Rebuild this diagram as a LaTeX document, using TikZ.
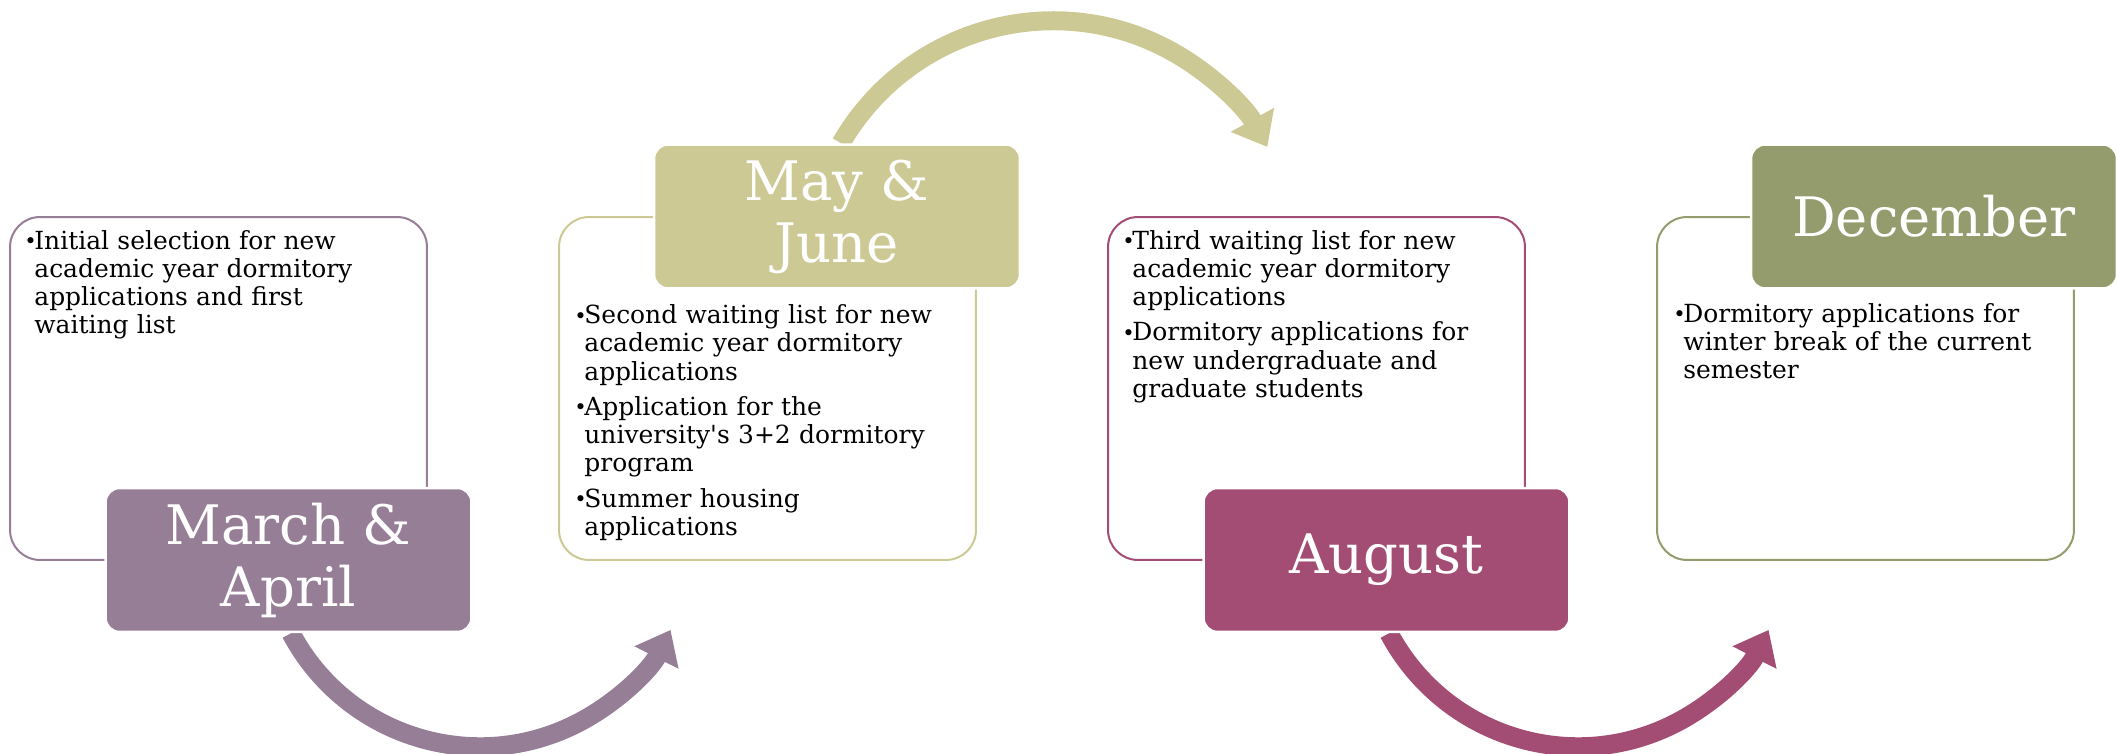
\documentclass[tikz,border=0pt]{standalone}
\usepackage{fontspec}
\setmainfont{DejaVu Serif}
\usetikzlibrary{arrows.meta, backgrounds, positioning}

\definecolor{mauve}{RGB}{150,126,150}
\definecolor{khaki}{RGB}{204,201,148}
\definecolor{berry}{RGB}{164,77,116}
\definecolor{olive}{RGB}{148,155,108}

\newcommand\bul{\makebox[0.2cm][l]{\raisebox{0.02em}{\fontsize{12}{12}\selectfont\textbullet}}}
\newcommand\ind{\hspace*{0.2cm}}

\begin{document}
\begin{tikzpicture}
  [
    x=0.02cm, y=0.02cm,
    stage/.style={draw, line width=0.04cm, rounded corners=0.6cm,
      minimum width=8.34cm, minimum height=6.86cm},
    month/.style={draw=white, line width=0.05cm, rounded corners=0.28cm,
      minimum width=7.32cm, minimum height=2.88cm, text=white, align=center,
      font=\fontsize{31}{35.3}\selectfont},
    notes/.style={anchor=base west, inner sep=0pt, text width=8cm, align=left,
      font=\fontsize{14.2}{16.1}\selectfont},
    flow/.style={line width=0.38cm, -{Triangle[length=0.62cm, width=0.95cm]}}
  ]
  \useasboundingbox (0,0) rectangle (2117,754);
  % march & april
  \node[stage, mauve] (s1) at (218.5,365.5) {};
  \node[notes] (n1) at ([shift={(0.3cm,-0.66cm)}]s1.north west)
  {\bul Initial selection for new\\
   \ind academic year dormitory\\
   \ind applications and first\\
   \ind waiting list};
  \node[month, fill=mauve] (march) at (288.5,194) {March \&\\ April};
  % may & june
  \node[stage, khaki] (s2) at (767.5,365.5) {};
  \node[notes] (n2) at ([shift={(0.32cm,-2.15cm)}]s2.north west)
  {\bul Second waiting list for new\\
   \ind academic year dormitory\\
   \ind applications\\[0.14cm]
   \bul Application for the\\
   \ind university\textquotesingle s 3+2 dormitory\\
   \ind program\\[0.14cm]
   \bul Summer housing\\
   \ind applications};
  \node[month, fill=khaki] (may) at (837,537.5) {May \&\\ June};
  % august
  \node[stage, berry] (s3) at (1316.5,365.5) {};
  \node[notes] (n3) at ([shift={(0.3cm,-0.66cm)}]s3.north west)
  {\bul Third waiting list for new\\
   \ind academic year dormitory\\
   \ind applications\\[0.14cm]
   \bul Dormitory applications for\\
   \ind new undergraduate and\\
   \ind graduate students};
  \node[month, fill=berry] (aug) at (1386.5,194) {August};
  % december
  \node[stage, olive] (s4) at (1865.5,365.5) {};
  \node[notes] (n4) at ([shift={(0.34cm,-2.12cm)}]s4.north west)
  {\bul Dormitory applications for\\
   \ind winter break of the current\\
   \ind semester};
  \node[month, fill=olive] (dec) at (1934,537.5) {December};
  % flow arrows
  \begin{scope}[on background layer]
    \draw[flow, mauve] ([xshift=0.05cm]march.south)
      arc[start angle=208, end angle=333, radius=4.28cm];
    \draw[flow, khaki] ([xshift=0.08cm]may.north)
      arc[start angle=150, end angle=29, radius=4.9cm];
    \draw[flow, berry] ([xshift=0.05cm]aug.south)
      arc[start angle=208, end angle=333, radius=4.28cm];
  \end{scope}
\end{tikzpicture}
\end{document}
